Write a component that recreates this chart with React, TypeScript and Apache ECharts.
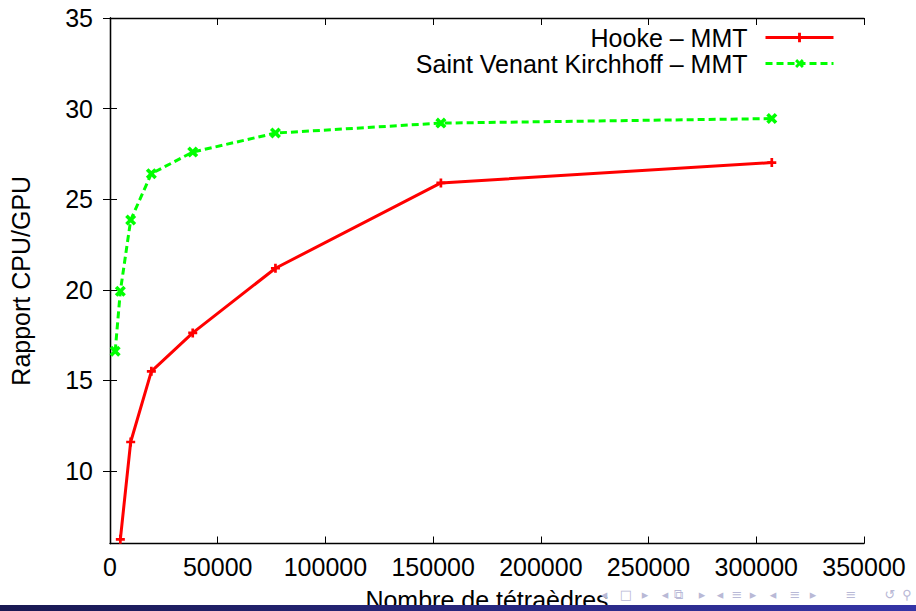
import React, { useEffect, useRef } from "react";
import * as echarts from "echarts";

const hookeX = [4800, 9600, 19200, 38400, 76800, 153600, 307200];
const hookeY = [6.23, 11.6, 15.5, 17.62, 21.19, 25.9, 27.02];
const svkX = [2400, 4800, 9600, 19200, 38400, 76800, 153600, 307200];
const svkY = [16.61, 19.92, 23.85, 26.41, 27.6, 28.65, 29.2, 29.45];
const yTicks = [10, 15, 20, 25, 30, 35];
const seriesNames = ["Hooke – MMT", "Saint Venant Kirchhoff – MMT"];
const xTitle = "Nombre de tétraèdres";
const yTitle = "Rapport CPU/GPU";

const PLUS = "path://M-1.5,-5 H1.5 V-1.5 H5 V1.5 H1.5 V5 H-1.5 V1.5 H-5 V-1.5 H-1.5 Z";
const FONT = "Liberation Sans, Arial, Helvetica, sans-serif";

export default function App() {
  const ref = useRef<HTMLDivElement>(null);
  useEffect(() => {
    if (!ref.current) return;
    const chart = echarts.init(ref.current, null, { renderer: "svg" });
    const axisLine = { show: true, lineStyle: { color: "#000", width: 1.3 } };
    const tick = { show: true, inside: true, length: 7, lineStyle: { color: "#000", width: 1 } };
    const navColor = "#b9b9d6";
    const nav = [
      { t: "◂", x: 604 }, { t: "□", x: 626 }, { t: "▸", x: 645 },
      { t: "◂", x: 665 }, { t: "⧉", x: 678 }, { t: "▸", x: 702 },
      { t: "◂", x: 720 }, { t: "≡", x: 737 }, { t: "▸", x: 753 },
      { t: "◂", x: 773 }, { t: "≡", x: 795 }, { t: "▸", x: 813 },
      { t: "≡", x: 851 }, { t: "↺", x: 890 }, { t: "⚲", x: 907 },
    ];
    chart.setOption({
      animation: false,
      backgroundColor: "#fff",
      textStyle: { fontFamily: FONT },
      grid: { left: 110, right: 52, top: 18, bottom: 67.5, outerBoundsMode: "none", containLabel: false },
      legend: {
        orient: "vertical",
        right: 76,
        top: 20,
        align: "right",
        itemGap: 1,
        itemWidth: 68,
        itemHeight: 12,
        selectedMode: false,
        data: seriesNames,
        lineStyle: { width: 3 },
        textStyle: { fontSize: 25, color: "#000", fontFamily: FONT, lineHeight: 24, padding: [0, 13, 0, 0] },
      },
      xAxis: [
        {
          type: "value",
          min: 0,
          max: 350000,
          interval: 50000,
          position: "bottom",
          name: xTitle,
          nameLocation: "middle",
          nameGap: 44,
          nameTextStyle: { fontSize: 25, color: "#000", fontFamily: FONT },
          axisLine,
          axisTick: tick,
          splitLine: { show: false },
          axisLabel: { color: "#000", fontSize: 25, margin: 11, fontFamily: FONT, formatter: (v: number) => String(v) },
        },
        {
          type: "value",
          min: 0,
          max: 350000,
          interval: 50000,
          position: "top",
          axisLine,
          axisTick: tick,
          splitLine: { show: false },
          axisLabel: { show: false },
        },
      ],
      yAxis: [
        {
          type: "value",
          min: 6,
          max: 35,
          position: "left",
          name: yTitle,
          nameLocation: "middle",
          nameRotate: 90,
          nameGap: 77,
          nameTextStyle: { fontSize: 25, color: "#000", fontFamily: FONT },
          axisLine,
          axisTick: { ...tick, customValues: yTicks },
          splitLine: { show: false },
          axisLabel: { color: "#000", fontSize: 25, margin: 17, fontFamily: FONT, customValues: yTicks },
        },
        {
          type: "value",
          min: 6,
          max: 35,
          position: "right",
          axisLine,
          axisTick: { ...tick, customValues: yTicks },
          splitLine: { show: false },
          axisLabel: { show: false, customValues: yTicks },
        },
      ],
      series: [
        {
          name: seriesNames[0],
          type: "line",
          xAxisIndex: 0,
          yAxisIndex: 0,
          data: hookeX.map((x, i) => [x, hookeY[i]]),
          symbol: PLUS,
          symbolSize: 9,
          showAllSymbol: true,
          lineStyle: { color: "#ff0000", width: 3 },
          itemStyle: { color: "#ff0000" },
          emphasis: { disabled: true },
        },
        {
          name: seriesNames[1],
          type: "line",
          xAxisIndex: 0,
          yAxisIndex: 0,
          data: svkX.map((x, i) => [x, svkY[i]]),
          symbol: PLUS,
          symbolSize: 12,
          symbolRotate: 45,
          showAllSymbol: true,
          lineStyle: { color: "#00ff00", width: 3, type: [7, 4] },
          itemStyle: { color: "#00ff00" },
          emphasis: { disabled: true },
        },
      ],
      graphic: [
        {
          type: "rect",
          left: 0,
          top: 605,
          z: 100,
          shape: { width: 916, height: 6 },
          style: {
            fill: new echarts.graphic.LinearGradient(0, 0, 1, 0, [
              { offset: 0, color: "#191952" },
              { offset: 1, color: "#3434a6" },
            ]),
          },
        },
        ...nav.map((n) => ({
          type: "text",
          x: n.x,
          y: 594,
          z: 100,
          style: {
            text: n.t,
            fill: navColor,
            fontSize: 13,
            fontFamily: "DejaVu Sans, sans-serif",
            align: "center",
            verticalAlign: "middle",
          },
        })),
      ],
    });
    return () => chart.dispose();
  }, []);
  return <div ref={ref} style={{ width: 916, height: 611, position: "fixed", left: 0, top: 0 }} />;
}
